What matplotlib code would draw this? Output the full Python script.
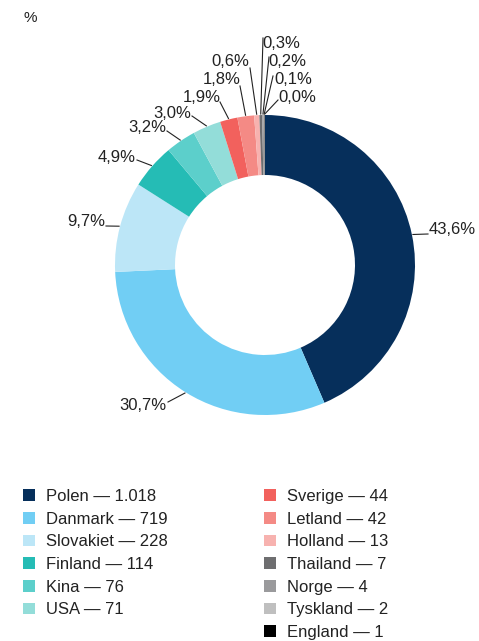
import numpy as np
import matplotlib.pyplot as plt
from matplotlib.patches import Patch

plt.rcParams['font.family'] = ['Liberation Sans', 'DejaVu Sans']

countries = ['Polen', 'Danmark', 'Slovakiet', 'Finland', 'Kina', 'USA', 'Sverige',
             'Letland', 'Holland', 'Thailand', 'Norge', 'Tyskland', 'England']
counts = [1018, 719, 228, 114, 76, 71, 44, 42, 13, 7, 4, 2, 1]
count_labels = ['1.018', '719', '228', '114', '76', '71', '44', '42', '13', '7', '4', '2', '1']
pct_labels = ['43,6%', '30,7%', '9,7%', '4,9%', '3,2%', '3,0%', '1,9%', '1,8%',
              '0,6%', '0,3%', '0,2%', '0,1%', '0,0%']
colors = ['#062f5b', '#71cef4', '#bce6f7', '#25bcb5', '#5ccfcb', '#93ddd9', '#f2615d',
          '#f48a85', '#f7b2af', '#6e6e70', '#9a9a9c', '#bfbfbf', '#000000']

# label text positions in pixels (x, y from top), alignment
label_pos = [(429, 230, 'left'), (166, 405, 'right'), (105, 222, 'right'),
             (136, 157, 'right'), (166, 128, 'right'), (191, 113, 'right'),
             (221, 97, 'right'), (241, 80, 'right'), (249, 62, 'right'),
             (262, 44, 'left'), (268, 62, 'left'), (274, 80, 'left'), (278, 98, 'left')]
line_start = [(428, 234), (168, 402), (106, 226), (137, 160), (167, 131), (192, 116),
              (220, 102), (240, 86), (250, 68), (263, 38), (269, 57), (273, 76), (278, 100)]

W, H = 479, 641
fig = plt.figure(figsize=(W / 100, H / 100), dpi=100)
ax = fig.add_axes([0, 0, 1, 1])

cx, cy, R = 265, H - 265, 150
wedges, _ = ax.pie(counts, colors=colors, startangle=90, counterclock=False,
                   radius=R, center=(cx, cy), wedgeprops=dict(width=60, linewidth=0),
                   frame=True)
ax.set_xlim(0, W)
ax.set_ylim(0, H)
ax.set_aspect('equal')
ax.axis('off')

for w, lab, (tx, ty, ha), (lx, ly) in zip(wedges, pct_labels, label_pos, line_start):
    ang = np.deg2rad((w.theta1 + w.theta2) / 2)
    ax_x = cx + (R + 1) * np.cos(ang)
    ax_y = cy + (R + 1) * np.sin(ang)
    ax.plot([lx, ax_x], [H - ly, ax_y], color='#222222', lw=0.8)
    ax.text(tx, H - ty, lab, ha=ha, va='center', fontsize=12, color='#222222')

ax.text(24, H - 18, '%', ha='left', va='center', fontsize=11, color='#222222')

handles = [Patch(facecolor=c, edgecolor='none') for c in colors]
texts = [f'{n} \u2014 {v}' for n, v in zip(countries, count_labels)]
kw = dict(frameon=False, fontsize=12, handlelength=0.72, handleheight=0.72,
          handletextpad=0.65, labelspacing=0.46, borderaxespad=0, borderpad=0,
          loc='upper left', labelcolor='#222222')
leg1 = ax.legend(handles[:6], texts[:6], bbox_to_anchor=(23 / W, 1 - 489 / H), **kw)
ax.add_artist(leg1)
ax.legend(handles[6:], texts[6:], bbox_to_anchor=(264 / W, 1 - 489 / H), **kw)

fig.savefig('out.png', dpi=100)
